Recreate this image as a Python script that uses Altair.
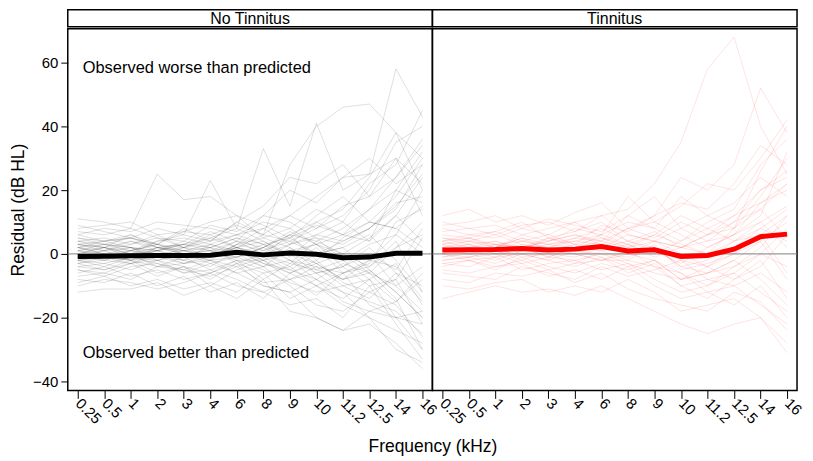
import altair as alt
import pandas as pd

FREQS = ["0.25", "0.5", "1", "2", "3", "4", "6", "8", "9", "10", "11.2", "12.5", "14", "16"]

NT_MEAN = [-0.8, -0.7, -0.6, -0.5, -0.5, -0.4, 0.5, -0.3, 0.3, -0.1, -1.2, -1.0, 0.2, 0.2]
T_MEAN = [1.2, 1.3, 1.4, 1.7, 1.2, 1.5, 2.3, 0.9, 1.3, -0.8, -0.5, 1.5, 5.4, 6.2]

NT_LINES = [
    [11, 10, 8, 25, 17, 18, 12, 5, 8, 3, 6, 10, 18, 30],
    [-12, -11, -11, -9, -13, -10, -14, -8, -18, -20, -24, -22, -28, -36],
    [5, 4, 6, 3, 8, 4, 10, 6, 28, 40, 46, 47, 38, 20],
    [2, 3, 1, 4, 6, 23, 8, 33, 15, 41, 20, 25, 58, 43],
    [-3, -5, -2, -6, -4, -8, -3, -10, -12, -8, -15, -18, -20, -30],
    [0, 2, -1, 1, 3, 2, 5, 1, 4, 8, 12, 20, 35, 40],
    [7, 6, 8, 5, 4, 9, 7, 12, 10, 5, 3, 8, 15, 25],
    [-6, -4, -7, -5, -8, -6, -2, -5, -9, -12, -10, -14, -6, -15],
    [3, 1, 4, 2, 0, -2, 3, 8, 12, 18, 24, 25, 30, 22],
    [-8, -9, -6, -10, -7, -12, -9, -14, -6, -3, -8, -5, -12, -20],
    [1, 0, 2, -1, 1, 0, 4, 2, 6, -2, 5, 10, 8, 15],
    [4, 5, 3, 6, 2, 5, 8, 4, 0, 3, -4, 2, -6, -10],
    [-2, -1, -3, 0, -2, -4, 1, -3, -5, -8, -12, -15, -18, -25],
    [9, 7, 5, 8, 6, 4, 10, 15, 24, 22, 28, 18, 30, 12],
    [-5, -7, -4, -3, -6, -5, -8, -12, -16, -14, -20, -10, -22, -33],
    [2, 4, 5, 3, 7, 6, 2, -2, 3, 10, 6, 14, 20, 32],
    [-1, 0, -2, 2, 1, -1, 3, 5, 2, -5, -2, -8, -15, -8],
    [6, 8, 7, 10, 9, 8, 6, 3, 5, 12, 18, 10, 8, 2],
    [-4, -3, -5, -2, -6, -3, -6, -4, -10, -16, -18, -12, -8, 5],
    [0, -2, 1, 0, -1, 2, -3, 0, -4, 2, -6, -4, 4, -12],
    [3, 2, 0, 4, 5, 3, 6, 10, 8, 14, 10, 22, 28, 45],
    [-9, -7, -10, -8, -11, -9, -12, -6, -14, -10, -16, -20, -24, -28],
    [5, 3, 2, 1, 4, 2, 0, 3, -2, -6, -4, 0, -10, -18],
    [-3, -2, 0, -4, -1, -5, -2, -8, -3, 4, 0, -6, 2, 10],
    [2, 1, 3, 5, 2, 6, 9, 6, 12, 8, 15, 18, 24, 36],
    [-7, -6, -8, -4, -5, -7, -4, -9, -8, -13, -6, -16, -20, -22],
    [1, 3, 2, -2, 0, 1, -1, 2, 7, 3, 0, 5, 12, 4],
    [8, 9, 10, 6, 7, 10, 12, 9, 5, 0, 2, -5, -12, -20],
    [-2, -4, -1, -3, -5, -2, -6, -10, -12, -20, -24, -18, -15, -6],
    [4, 2, 6, 2, 3, 1, 4, 12, 20, 16, 24, 30, 22, 28],
    [-1, 1, -2, -1, -3, 0, -1, -4, 2, -3, -8, -2, -4, -14],
    [0, -1, 1, 3, 2, -1, 2, 4, -1, 6, 4, 8, 16, 18],
    [-5, -6, -3, -7, -4, -10, -5, -2, -8, -6, -12, -20, -30, -34],
    [6, 4, 5, 2, 3, 7, 4, 0, 6, 10, 14, 24, 38, 30],
    [-10, -8, -9, -11, -9, -6, -10, -12, -8, -4, -10, -8, -3, -16],
    [2, 0, -1, 1, -2, 3, 1, -2, -6, -10, -6, -2, 6, 20],
    [1, 2, 0, 1, -1, 0, 2, -1, 1, 3, -2, 0, -5, 8],
    [-2, -3, -1, -2, 0, -3, -1, 2, -2, -4, -6, -3, 10, 14],
    [3, 4, 2, 1, 3, 5, 2, 6, 4, 0, 2, 6, -2, -12],
    [-1, -2, -3, -1, -2, 0, 1, -3, -6, -2, -9, -12, -16, -26],
    [0, 1, 2, 0, 1, -1, 3, 1, 5, 9, 6, 4, 12, 24],
    [2, 0, -1, 2, 1, 3, 0, -4, -2, -8, -3, -6, -10, -4],
    [-3, -1, -2, -4, -3, -1, 2, 0, 3, 6, 10, 4, 20, 16],
    [4, 3, 5, 3, 1, 2, 5, 3, 0, -3, 0, -4, 2, 6],
    [-4, -5, -3, -2, -4, -6, -3, -6, -4, -10, -14, -8, -20, -18],
    [1, -1, 0, 2, 0, -2, -1, 2, 6, 4, 8, 14, 24, 34],
    [-1, 0, 1, -1, 2, 1, -2, -2, 0, -6, -4, -10, -8, -22],
    [3, 2, 4, 1, 2, 4, 6, 8, 3, 5, -2, 3, 6, 0],
    [-2, -1, -2, 0, -3, -2, -4, -1, -5, 0, 4, 8, 14, 28],
    [0, 2, 1, 3, 0, 1, 2, 0, -3, -5, -8, -6, -14, -30],
]

T_LINES = [
    [4, 6, 5, 8, 6, 10, 12, 14, 22, 35, 58, 68, 40, 25],
    [-14, -12, -10, -12, -11, -13, -10, -14, -18, -22, -25, -22, -20, -31],
    [12, 14, 10, 12, 9, 13, 16, 8, 12, 24, 20, 28, 52, 38],
    [3, 5, 2, 6, 4, 8, 6, 18, 10, 15, 22, 20, 30, 42],
    [-5, -6, -4, -3, -7, -5, -8, -4, -10, -14, -12, -16, -10, -20],
    [1, 0, 3, 2, -1, 2, 4, 2, 6, 3, 0, 8, 18, 30],
    [7, 8, 6, 9, 10, 7, 12, 6, 4, 2, 6, 10, 14, 22],
    [-2, -1, -3, 0, -2, -4, -1, -6, -3, -10, -14, -8, -4, 6],
    [9, 10, 12, 8, 11, 9, 7, 12, 18, 8, 12, 16, 24, 18],
    [-8, -9, -6, -7, -5, -9, -6, -11, -14, -16, -18, -12, -15, -24],
    [2, 3, 1, 4, 3, 5, 8, 4, 2, -4, -2, 4, 10, 15],
    [5, 4, 6, 3, 2, 4, 3, 0, -2, -8, -6, -4, 2, 12],
    [-3, -4, -1, -5, -3, -2, -5, -3, -8, -12, -10, -6, -12, -18],
    [0, 2, 4, 1, 5, 2, 6, 10, 8, 4, 10, 14, 28, 36],
    [10, 8, 9, 6, 8, 10, 5, 3, 6, 12, 8, 4, 8, 4],
    [-6, -7, -8, -4, -6, -8, -4, -7, -5, -2, -8, -10, -6, -12],
    [3, 1, 2, 5, 1, 3, 2, 6, 4, 8, 4, 10, 20, 26],
    [-1, 0, -2, 1, 0, -3, 1, -2, 3, -5, -3, 0, 6, -6],
    [6, 5, 7, 4, 6, 3, 9, 7, 12, 16, 14, 22, 34, 28],
    [-10, -11, -9, -8, -12, -10, -12, -8, -12, -18, -16, -14, -20, -28],
    [4, 2, 3, 0, 2, 1, 0, -1, 2, -4, -6, -2, 4, 10],
    [1, 3, 0, 2, 4, 6, 3, 8, 5, 10, 6, 12, 16, 20],
    [-4, -2, -5, -1, -4, -6, -3, -5, -2, -8, -4, -8, -2, -14],
    [8, 6, 7, 10, 5, 7, 10, 4, 7, 2, 4, 6, 12, 32],
    [0, -1, 1, -2, 1, 0, -2, 1, -4, -6, -10, -4, 0, 8],
    [2, 4, 3, 4, 2, 5, 4, 12, 8, 18, 12, 8, 14, 5],
    [1, 2, 0, 1, 3, 2, 3, 0, 2, -2, -4, 2, 8, 14],
    [-2, -1, 0, -3, -1, -2, 0, -3, -6, -8, -6, -2, -8, -16],
    [3, 4, 2, 5, 3, 4, 6, 3, 0, 4, 8, 12, 20, 24],
    [0, -2, -1, 0, -2, 1, -1, -4, -2, -6, -12, -10, -16, -22],
    [5, 3, 4, 2, 4, 6, 4, 8, 10, 6, 2, 6, 10, 2],
    [-1, 1, 2, -1, 0, -1, 2, 4, 1, -3, 2, 6, 16, 22],
    [2, 0, 1, 3, 1, 0, -2, -2, -4, -10, -8, -6, 0, -4],
    [-3, -2, -4, -2, -5, -3, -2, 0, 4, 2, 0, 4, 6, 12],
    [4, 5, 3, 2, 5, 3, 5, 2, 4, 0, -4, 0, 4, -8],
    [0, 1, -1, 2, -1, 2, 1, 3, -1, 2, 6, 8, 26, 40],
]

PANELS = ["No Tinnitus", "Tinnitus"]
FONT = "Liberation Sans"
Y_TOP, Y_BOT = 70.6, -42.8
PW, PH, SH = 366, 363, 17


def long_lines(lines):
    rows = []
    for i, ln in enumerate(lines):
        for j, v in enumerate(ln):
            rows.append({"id": i, "fi": j, "freq": FREQS[j], "value": v})
    return pd.DataFrame(rows)


def long_mean(vals):
    return pd.DataFrame({"fi": list(range(len(FREQS))), "freq": FREQS, "value": vals})


xscale = alt.Scale(type="point", padding=0.375)
yscale = alt.Scale(domain=[Y_BOT, Y_TOP], nice=False, zero=False)

XAX = dict(labelAngle=45, labelAlign="left", labelBaseline="middle", labelFontSize=15,
           tickSize=8, labelPadding=2, domain=False, tickColor="black", labelColor="black",
           labelFont=FONT, labelOverlap=False)


def panel(lines, mean, color, thin_opacity, left):
    if left:
        xaxis = alt.Axis(title="Frequency (kHz)", titleX=PW, titleY=47, titleFontSize=17.5,
                         titleFontWeight="normal", titleColor="black", titleFont=FONT, **XAX)
        yaxis = alt.Axis(title="Residual (dB HL)", values=[-40, -20, 0, 20, 40, 60],
                         grid=False, domain=False, tickSize=7, labelPadding=3,
                         labelFontSize=15, tickColor="black", labelColor="black",
                         titleFontSize=17.5, titleFontWeight="normal", titleColor="black",
                         titlePadding=5, labelFont=FONT, titleFont=FONT)
    else:
        xaxis = alt.Axis(title=None, **XAX)
        yaxis = None

    x = alt.X("freq:O", sort=FREQS, scale=xscale, axis=xaxis)
    y = alt.Y("value:Q", scale=yscale, axis=yaxis)

    thin = alt.Chart(long_lines(lines)).mark_line(
        color=color, strokeWidth=0.9, opacity=thin_opacity
    ).encode(x=x, y=y, detail="id:N", order="fi:Q")

    zero = alt.Chart(pd.DataFrame({"value": [0]})).mark_rule(
        color="#808080", strokeWidth=1
    ).encode(y=alt.Y("value:Q", scale=yscale, axis=yaxis))

    mline = alt.Chart(long_mean(mean)).mark_line(
        color=color, strokeWidth=5
    ).encode(x=x, y=y, order="fi:Q")

    layers = [thin, zero, mline]
    if left:
        ann = pd.DataFrame({"freq": ["0.25", "0.25"], "value": [58.4, -31.0],
                            "label": ["Observed worse than predicted",
                                      "Observed better than predicted"]})
        txt = alt.Chart(ann).mark_text(align="left", baseline="middle", dx=5,
                                       fontSize=16.5, font=FONT, color="black").encode(
            x=x, y=y, text="label:N")
        layers.append(txt)
    return alt.layer(*layers).properties(width=PW, height=PH)


def strip(name):
    return alt.Chart(pd.DataFrame({"t": [name]})).mark_text(
        fontSize=16, font=FONT, color="black", baseline="middle"
    ).encode(text="t:N", x=alt.value(PW / 2), y=alt.value(SH / 2 + 0.5)).properties(
        width=PW, height=SH)


strips = alt.hconcat(strip(PANELS[0]), strip(PANELS[1]), spacing=0, bounds="flush")
panels = alt.hconcat(panel(NT_LINES, NT_MEAN, "black", 0.14, True),
                     panel(T_LINES, T_MEAN, "red", 0.13, False),
                     spacing=0, bounds="flush")

chart = alt.vconcat(strips, panels, spacing=0).properties(
    padding={"left": 0, "top": 0, "right": 0, "bottom": 0}
).configure(background="white").configure_view(stroke="black", strokeWidth=1.5)

chart.save("out.html", embed_options={"renderer": "svg", "actions": False})
